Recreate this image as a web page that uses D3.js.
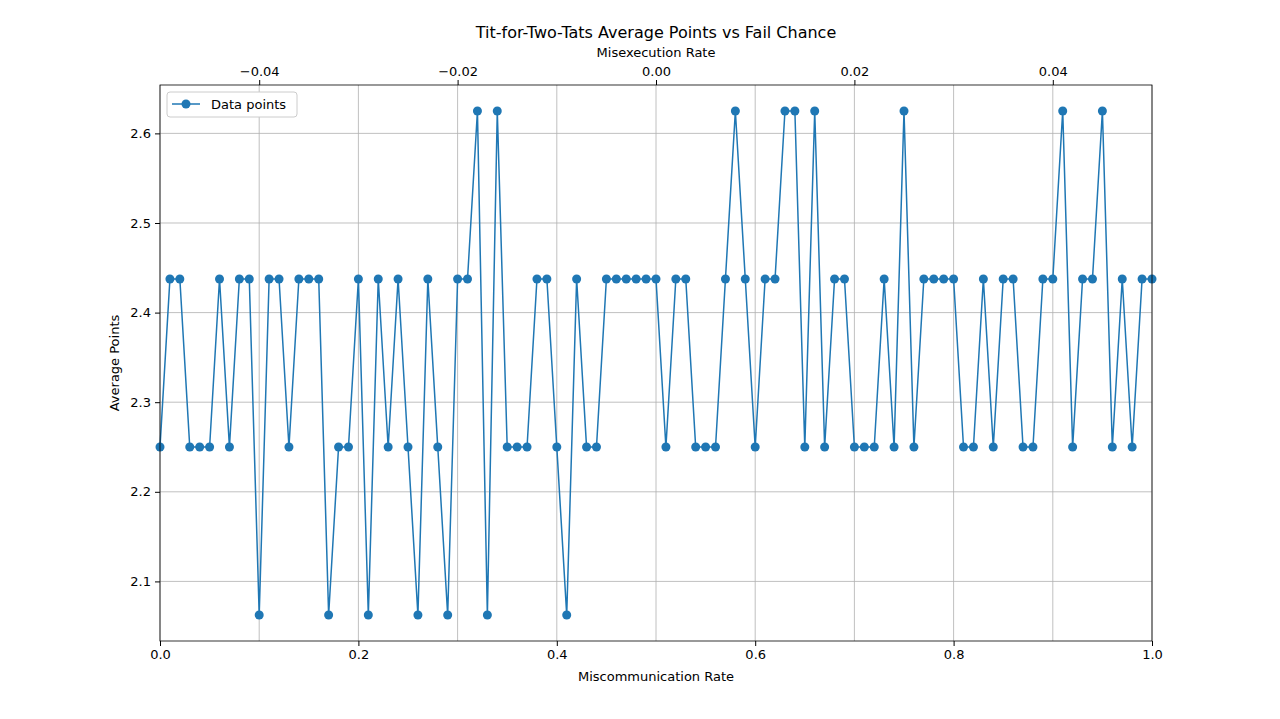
<!DOCTYPE html>
<html><head><meta charset="utf-8">
<script src="https://cdn.jsdelivr.net/npm/d3@7"></script>
<style>body{margin:0;background:#fff}svg{font-family:"DejaVu Sans",sans-serif}</style>
</head><body><svg id="c" width="1280" height="719"></svg>
<script>
const xValues = d3.range(0, 101).map(i => i / 100);
const avgPoints = [2.25,2.4375,2.4375,2.25,2.25,2.25,2.4375,2.25,2.4375,2.4375,
2.0625,2.4375,2.4375,2.25,2.4375,2.4375,2.4375,2.0625,2.25,2.25,
2.4375,2.0625,2.4375,2.25,2.4375,2.25,2.0625,2.4375,2.25,2.0625,
2.4375,2.4375,2.625,2.0625,2.625,2.25,2.25,2.25,2.4375,2.4375,
2.25,2.0625,2.4375,2.25,2.25,2.4375,2.4375,2.4375,2.4375,2.4375,
2.4375,2.25,2.4375,2.4375,2.25,2.25,2.25,2.4375,2.625,2.4375,
2.25,2.4375,2.4375,2.625,2.625,2.25,2.625,2.25,2.4375,2.4375,
2.25,2.25,2.25,2.4375,2.25,2.625,2.25,2.4375,2.4375,2.4375,
2.4375,2.25,2.25,2.4375,2.25,2.4375,2.4375,2.25,2.25,2.4375,
2.4375,2.625,2.25,2.4375,2.4375,2.625,2.25,2.4375,2.25,2.4375,2.4375];
const xTicks = [0,0.2,0.4,0.6,0.8,1.0];
const yTicks = [2.1,2.2,2.3,2.4,2.5,2.6];
const topTicks = [-0.04,-0.02,0,0.02,0.04];

const L=160,R=1152,T=85,B=641;
const svg=d3.select("#c");
const x=d3.scaleLinear().domain([0,1]).range([L,R]);
const xt=d3.scaleLinear().domain([-0.05,0.05]).range([L,R]);
const y=d3.scaleLinear().domain([2.0335,2.654]).range([B,T]);
const fmt=v=>{const s=v.toFixed(v===0?2:2);return v<0?"\u2212"+s.slice(1):s;};

const g=svg.append("g");
xTicks.forEach(t=>g.append("line").attr("x1",x(t)).attr("x2",x(t)).attr("y1",T).attr("y2",B).attr("stroke","#b0b0b0").attr("stroke-width",0.8));
yTicks.forEach(t=>g.append("line").attr("x1",L).attr("x2",R).attr("y1",y(t)).attr("y2",y(t)).attr("stroke","#b0b0b0").attr("stroke-width",0.8));
topTicks.forEach(t=>g.append("line").attr("x1",xt(t)).attr("x2",xt(t)).attr("y1",T).attr("y2",B).attr("stroke","#b0b0b0").attr("stroke-width",0.8));

const line=d3.line().x((d,i)=>x(xValues[i])).y(d=>y(d));
svg.append("path").datum(avgPoints).attr("d",line).attr("fill","none").attr("stroke","#1f77b4").attr("stroke-width",1.5);
svg.selectAll("circle.p").data(avgPoints).enter().append("circle")
 .attr("cx",(d,i)=>x(xValues[i])).attr("cy",d=>y(d)).attr("r",4.5).attr("fill","#1f77b4");

const ax=svg.append("g").attr("transform",`translate(0,${B})`).call(d3.axisBottom(x).tickValues(xTicks).tickFormat(d3.format(".1f")).tickSize(5).tickPadding(4));
const ay=svg.append("g").attr("transform",`translate(${L},0)`).call(d3.axisLeft(y).tickValues(yTicks).tickFormat(d3.format(".1f")).tickSize(5).tickPadding(4));
const at=svg.append("g").attr("transform",`translate(0,${T})`).call(d3.axisTop(xt).tickValues(topTicks).tickFormat(fmt).tickSize(5).tickPadding(4));
[ax,ay,at].forEach(a=>{a.select(".domain").remove();a.selectAll("text").attr("font-size",13).attr("fill","#000").attr("font-family","DejaVu Sans");a.selectAll("line").attr("stroke","#000");});
svg.append("rect").attr("x",L).attr("y",T).attr("width",R-L).attr("height",B-T).attr("fill","none").attr("stroke","#000").attr("stroke-width",0.8);

svg.append("text").attr("x",656).attr("y",38).attr("text-anchor","middle").attr("font-size",16).text("Tit-for-Two-Tats Average Points vs Fail Chance");
svg.append("text").attr("x",656).attr("y",57).attr("text-anchor","middle").attr("font-size",13).text("Misexecution Rate");
svg.append("text").attr("x",656).attr("y",681).attr("text-anchor","middle").attr("font-size",13).text("Miscommunication Rate");
svg.append("text").attr("transform","translate(119,363) rotate(-90)").attr("text-anchor","middle").attr("font-size",13).text("Average Points");

const lg=svg.append("g");
lg.append("rect").attr("x",167).attr("y",92).attr("width",130).attr("height",25).attr("rx",3).attr("fill","#fff").attr("stroke","#ccc");
lg.append("line").attr("x1",172).attr("x2",200).attr("y1",104).attr("y2",104).attr("stroke","#1f77b4").attr("stroke-width",1.5);
lg.append("circle").attr("cx",186).attr("cy",104).attr("r",4.5).attr("fill","#1f77b4");
lg.append("text").attr("x",211).attr("y",109).attr("font-size",13).text("Data points");
</script></body></html>
